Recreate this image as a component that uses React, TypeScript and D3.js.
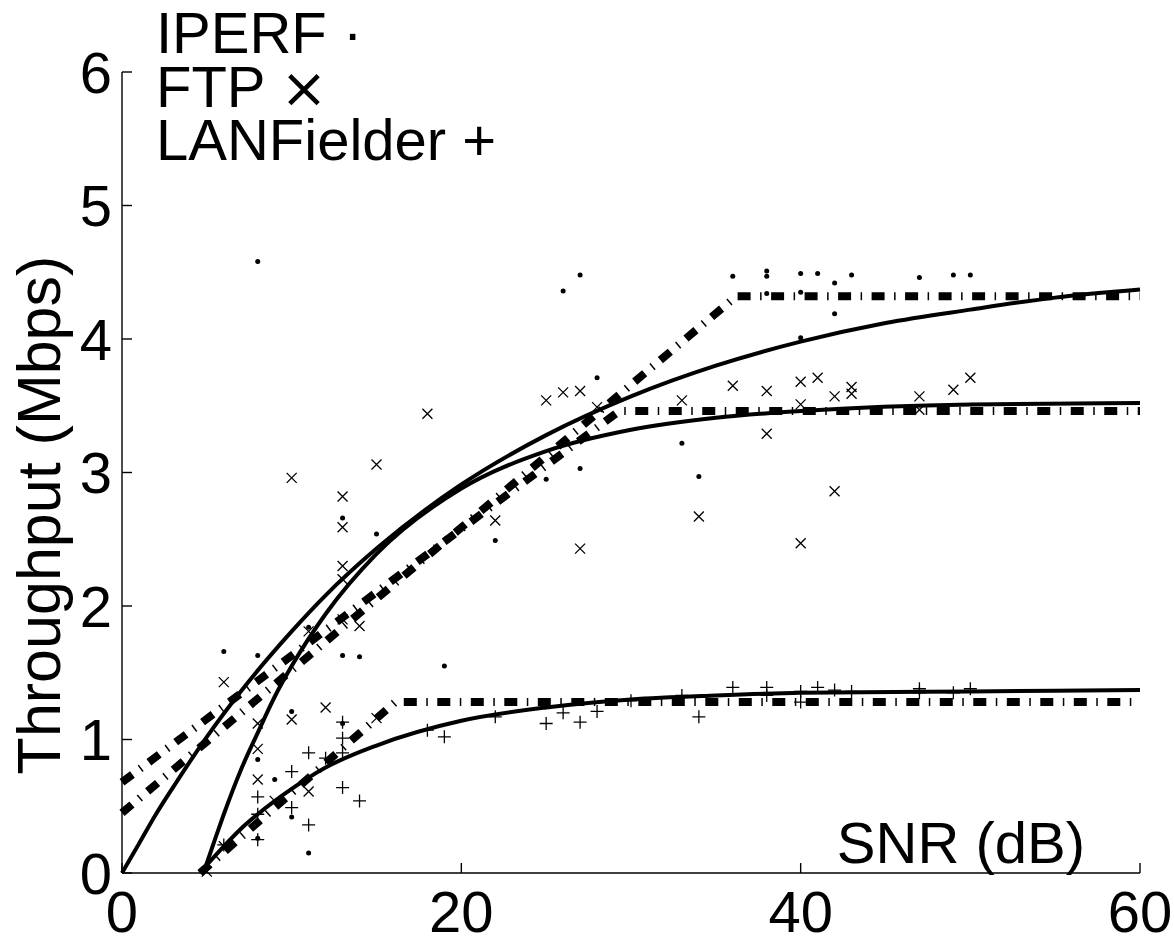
import React from 'react';
import * as d3 from 'd3';

// ---- scatter data: [SNR dB, throughput Mbps] ----
const iperfPoints: [number, number][] = [
  [8, 4.58], [13, 2.66], [15, 2.54], [27, 4.48], [26, 4.36], [36, 4.47], [38, 4.51], [38, 4.47], [38, 4.34],
  [28, 3.71], [33, 3.22], [34, 2.97], [27, 3.03], [25, 2.95], [22, 2.49], [40, 4.49], [41, 4.49], [43, 4.48],
  [42, 4.42], [40, 4.35], [42, 4.19], [40, 4.01], [47, 4.46], [49, 4.48], [50, 4.48], [6, 1.66], [8, 1.63],
  [11, 1.84], [13, 1.63], [14, 1.62], [19, 1.55], [10, 1.21], [13, 1.12], [8, 0.85], [9, 0.70], [10, 0.42],
  [11, 0.15], [8, 0.26],
];
const ftpPoints: [number, number][] = [
  [18, 3.44], [10, 2.96], [15, 3.06], [13, 2.82], [13, 2.59], [13, 2.30], [13, 2.20], [25, 3.54], [26, 3.60],
  [27, 3.61], [28, 3.49], [33, 3.54], [36, 3.65], [38, 3.61], [38, 3.29], [34, 2.67], [27, 2.43], [22, 2.64],
  [40, 3.68], [41, 3.71], [42, 3.57], [43, 3.64], [43, 3.59], [40, 3.51], [47, 3.57], [47, 3.47], [49, 3.62],
  [50, 3.71], [42, 2.86], [40, 2.47], [11, 1.81], [13, 1.90], [14, 1.85], [6, 1.43], [8, 1.12], [10, 1.15],
  [12, 1.24], [8, 0.93], [8, 0.70], [11, 0.61], [9, 0.54], [15, 1.16], [6, 0.20], [5, 0.01],
];
const lanPoints: [number, number][] = [
  [6, 0.21], [8, 0.25], [8, 0.44], [8, 0.57], [10, 0.49], [10, 0.76], [11, 0.36], [11, 0.90], [12, 0.86],
  [13, 0.64], [13, 0.90], [13, 1.01], [13, 1.13], [14, 0.54], [18, 1.07], [19, 1.02], [22, 1.17], [25, 1.12],
  [26, 1.20], [27, 1.13], [28, 1.21], [30, 1.29], [33, 1.33], [34, 1.17], [36, 1.39], [38, 1.39], [38, 1.33],
  [40, 1.36], [40, 1.28], [41, 1.39], [42, 1.37], [43, 1.36], [47, 1.38], [47, 1.35], [49, 1.35], [50, 1.38],
];

// ---- fitted curves ----
const iperfFitX = [0, 1, 2, 3, 5, 7, 10, 12, 15, 20, 25, 30, 35, 40, 45, 50, 55, 60];
const iperfFitY = [0, 0.22, 0.44, 0.64, 1.02, 1.36, 1.81, 2.08, 2.43, 2.91, 3.28, 3.57, 3.8, 3.98, 4.12, 4.22, 4.31, 4.37];
const ftpFitX = [4.8, 5.5, 6, 7, 8, 9, 10, 12, 15, 20, 25, 30, 35, 40, 50, 60];
const ftpFitY = [0, 0.26, 0.44, 0.77, 1.05, 1.32, 1.55, 1.94, 2.39, 2.88, 3.16, 3.32, 3.41, 3.46, 3.51, 3.52];
const lanFitX = [4.6, 5, 6, 7, 8, 10, 12, 15, 20, 25, 30, 35, 40, 50, 60];
const lanFitY = [0, 0.06, 0.2, 0.33, 0.44, 0.63, 0.79, 0.955, 1.14, 1.24, 1.3, 1.33, 1.35, 1.36, 1.37];

// ---- piecewise linear fits ----
const iperfLinX = [0, 36.2, 60];
const iperfLinY = [0.45, 4.32, 4.32];
const ftpLinX = [0, 29.3, 60];
const ftpLinY = [0.68, 3.46, 3.46];
const lanLinX = [4.6, 16.1, 60];
const lanLinY = [0, 1.28, 1.28];

const xTicks = [0, 20, 40, 60];
const yTicks = [0, 1, 2, 3, 4, 5, 6];
const legendNames = ['IPERF', 'FTP', 'LANFielder'];
const legendSymbols = ['\u00b7', '\u00d7', '+'];

const W = 1174;
const H = 939;
const FONT = '"Liberation Sans", Arial, Helvetica, sans-serif';

export default function App() {
  const x = d3.scaleLinear().domain([0, 60]).range([122, 1140]);
  const y = d3.scaleLinear().domain([0, 6]).range([873, 72]);

  const curve = (xs: number[], ys: number[]) =>
    d3.line<number>().x((_, i) => x(xs[i])).y((_, i) => y(ys[i])).curve(d3.curveMonotoneX)(xs) || '';
  const lin = (xs: number[], ys: number[]) =>
    d3.line<number>().x((_, i) => x(xs[i])).y((_, i) => y(ys[i]))(xs) || '';

  const dashed = '13 9.5 1.5 9.5';

  return (
    <svg width={W} height={H} style={{ position: 'absolute', left: 0, top: 0, background: '#fff' }}>
      <rect x={0} y={0} width={W} height={H} fill="#fff" />
      {/* axes */}
      <line x1={x(0)} y1={y(6)} x2={x(0)} y2={y(0)} stroke="#000" strokeWidth={1.4} />
      <line x1={x(0)} y1={y(0)} x2={x(60)} y2={y(0)} stroke="#000" strokeWidth={1.4} />
      {yTicks.map((t) => (
        <g key={'y' + t}>
          <line x1={x(0)} x2={x(0) + 10} y1={y(t)} y2={y(t)} stroke="#000" strokeWidth={1.4} />
          <text x={112} y={y(t)} dy="0.36em" textAnchor="end" fontFamily={FONT} fontSize={58}>
            {t}
          </text>
        </g>
      ))}
      {xTicks.map((t) => (
        <g key={'x' + t}>
          <line x1={x(t)} x2={x(t)} y1={y(0)} y2={y(0) - 10} stroke="#000" strokeWidth={1.4} />
          <text x={x(t)} y={932} textAnchor="middle" fontFamily={FONT} fontSize={58}>
            {t}
          </text>
        </g>
      ))}

      {/* piecewise fits */}
      {[lin(iperfLinX, iperfLinY), lin(ftpLinX, ftpLinY), lin(lanLinX, lanLinY)].map((d, i) => (
        <path key={'l' + i} d={d} fill="none" stroke="#000" strokeWidth={8} strokeDasharray={dashed} strokeLinecap="butt" />
      ))}

      {/* smooth fits */}
      {[curve(iperfFitX, iperfFitY), curve(ftpFitX, ftpFitY), curve(lanFitX, lanFitY)].map((d, i) => (
        <path key={'c' + i} d={d} fill="none" stroke="#000" strokeWidth={4} />
      ))}

      {/* scatter */}
      {iperfPoints.map((p, i) => (
        <circle key={'i' + i} cx={x(p[0])} cy={y(p[1])} r={2.5} fill="#000" />
      ))}
      {ftpPoints.map((p, i) => {
        const cx = x(p[0]);
        const cy = y(p[1]);
        const s = 5;
        return (
          <path key={'f' + i} d={`M${cx - s},${cy - s}L${cx + s},${cy + s}M${cx - s},${cy + s}L${cx + s},${cy - s}`} stroke="#000" strokeWidth={1.3} fill="none" />
        );
      })}
      {lanPoints.map((p, i) => {
        const cx = x(p[0]);
        const cy = y(p[1]);
        const s = 6.5;
        return (
          <path key={'p' + i} d={`M${cx - s},${cy}L${cx + s},${cy}M${cx},${cy - s}L${cx},${cy + s}`} stroke="#000" strokeWidth={1.3} fill="none" />
        );
      })}

      {/* legend */}
      {legendNames.map((t, i) => (
        <text key={'lg' + i} x={156} y={53 + i * 53.5} fontFamily={FONT} fontSize={58}>
          {t + ' '}
          <tspan fontSize={i === 1 ? 56 : 58} fontFamily={i === 1 ? '"DejaVu Sans", sans-serif' : FONT}>
            {legendSymbols[i]}
          </tspan>
        </text>
      ))}

      {/* axis labels */}
      <text x={1085} y={863} textAnchor="end" fontFamily={FONT} fontSize={58}>
        SNR (dB)
      </text>
      <text transform={`translate(60, 515) rotate(-90)`} textAnchor="middle" fontFamily={FONT} fontSize={61}>
        Throughput (Mbps)
      </text>
    </svg>
  );
}
